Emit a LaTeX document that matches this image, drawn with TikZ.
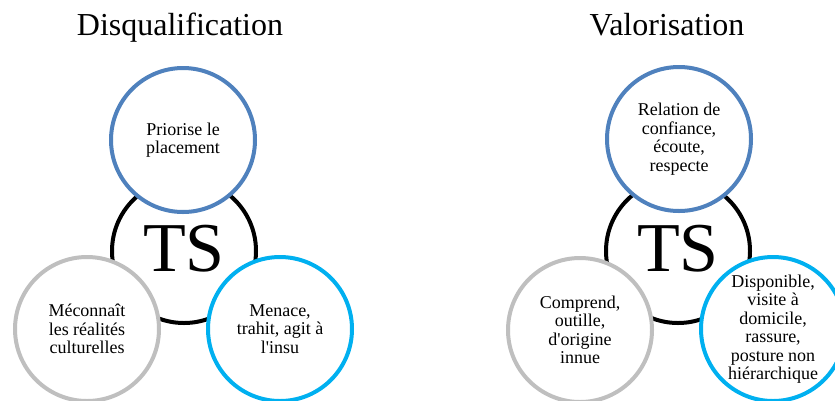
\documentclass[tikz,border=0pt]{standalone}
\usepackage{fontspec}
\setmainfont{Liberation Serif}[Ligatures=TeXOff]
\definecolor{ringblue}{HTML}{4F81BD}
\definecolor{ringgray}{HTML}{BFBFBF}
\definecolor{ringcyan}{HTML}{00B0F0}
\begin{document}
\begin{tikzpicture}[
    x=1pt, y=-1pt,
    ring/.style={circle, draw=#1, line width=4pt, fill=white,
                 minimum size=144pt, inner sep=0pt},
    txt/.style={align=center, font=\fontsize{18}{18.5}\selectfont},
    title/.style={anchor=base, font=\fontsize{32}{34}\selectfont},
    core/.style={font=\fontsize{70}{72}\selectfont}
]
\useasboundingbox (0,0) rectangle (835,400);

% Disqualification
\node[title] (tdis) at (180,35) {Disqualification};
\node[ring=black] (tsl) at (184,251) {};
\node[core] (tsltxt) at (184,249) {TS};
\node[ring=ringblue] (pl) at (183,140) {};
\node[ring=ringgray] (ml) at (87,329) {};
\node[ring=ringcyan] (al) at (280,329) {};
\node[txt] (pltxt) at (pl) {Priorise le\\placement};
\node[txt] (mltxt) at (ml) {Méconnaît\\les réalités\\culturelles};
\node[txt] (altxt) at (al) {Menace,\\trahit, agit à\\l'insu};

% Valorisation
\node[title] (tval) at (667,35) {Valorisation};
\node[ring=black] (tsr) at (678,251) {};
\node[core] (tsrtxt) at (678,249) {TS};
\node[ring=ringblue] (rr) at (679,139) {};
\node[ring=ringgray] (cr) at (580,330) {};
\node[ring=ringcyan] (dr) at (773,329) {};
\node[txt] (rrtxt) at (rr) {Relation de\\confiance,\\écoute,\\respecte};
\node[txt] (crtxt) at (cr) {Comprend,\\outille,\\d'origine\\innue};
\node[txt] (drtxt) at (dr) {Disponible,\\visite à\\domicile,\\rassure,\\posture non\\hiérarchique};
\end{tikzpicture}
\end{document}
